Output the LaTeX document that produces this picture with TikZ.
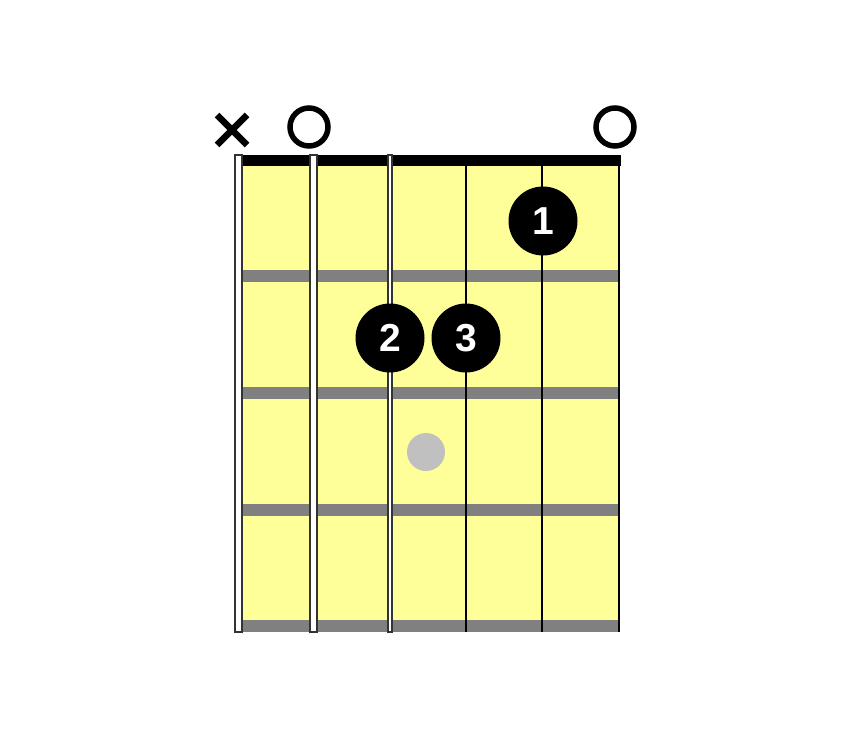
\documentclass[tikz,border=0pt]{standalone}
\usepackage{fontspec}
\setmainfont{Liberation Sans}
\definecolor{board}{HTML}{FFFF99}
\definecolor{fretc}{HTML}{808080}
\definecolor{ghost}{HTML}{C0C0C0}
\definecolor{strb}{HTML}{333333}
\begin{document}
\begin{tikzpicture}[x=1pt,y=-1pt,
  finger/.style={circle,fill=black,minimum size=69pt,inner sep=0pt,text=white,font=\fontsize{39}{39}\selectfont\bfseries},
  ghostdot/.style={circle,fill=ghost,minimum size=38pt,inner sep=0pt},
  openstr/.style={circle,draw=black,line width=5.5pt,minimum size=38pt,inner sep=0pt},
  woundstr/.style={draw=strb,fill=white,line width=2pt},
  plainstr/.style={draw=black,line width=2pt},
  fretbar/.style={fill=fretc}]
\useasboundingbox (0,0) rectangle (854,730);
% board
\fill[board] (242,155) rectangle (620,632);
% nut
\fill[black] (242,155) rectangle (621,166);
% frets
\foreach \y in {270,387,504,620}{
  \fill[fretc] (242,\y) rectangle (620,\y+12);
}
% strings
\draw[woundstr] (235,155) rectangle (242,632);
\draw[woundstr] (310,155) rectangle (317,632);
\draw[draw=strb,fill=white,line width=1.4pt] (388,155) rectangle (392,632);
\coordinate (s4t) at (466,155); \coordinate (s4b) at (466,632);
\coordinate (s5t) at (542,155); \coordinate (s5b) at (542,632);
\coordinate (s6t) at (619,155); \coordinate (s6b) at (619,632);
\draw[plainstr] (s4t) -- (s4b);
\draw[plainstr] (s5t) -- (s5b);
\draw[plainstr] (s6t) -- (s6b);
% markers
\node[openstr] (o2) at (309,127) {};
\node[openstr] (o6) at (615,127) {};
\coordinate (xa) at (217,115); \coordinate (xb) at (247,145);
\coordinate (xc) at (247,115); \coordinate (xd) at (217,145);
\draw[line width=6.5pt] (xa) -- (xb);
\draw[line width=6.5pt] (xc) -- (xd);
% fingers
\node[finger] (f1) at (543,221) {1};
\node[finger] (f2) at (390,338) {2};
\node[finger] (f3) at (466,338) {3};
\node[ghostdot] (g) at (426,452) {};
\end{tikzpicture}
\end{document}
